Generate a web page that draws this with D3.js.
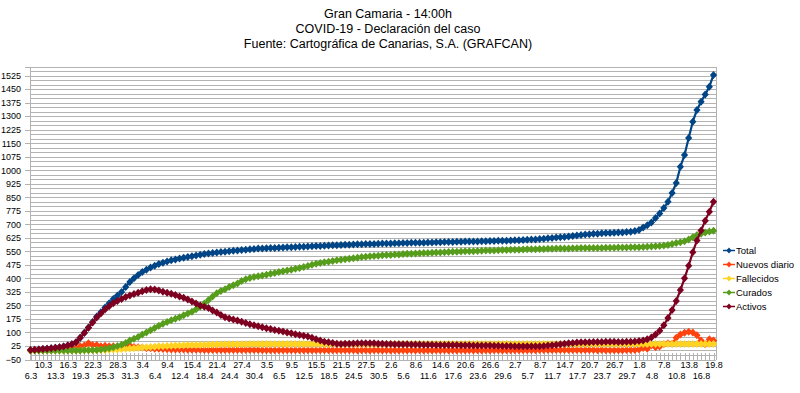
<!DOCTYPE html>
<html><head><meta charset="utf-8">
<script src="https://cdn.jsdelivr.net/npm/d3@7"></script>
<style>
body{margin:0;background:#fff;}
svg{display:block;font-family:"Liberation Sans",Arial,sans-serif;}
</style>
</head><body>
<svg id="c" width="800" height="393"></svg>
<script>
const titleLines = ["Gran Camaria - 14:00h", "COVID-19 - Declaración del caso", "Fuente: Cartográfica de Canarias, S.A. (GRAFCAN)"];
const dates = ["6.3","8.3","9.3",
"10.3","11.3","12.3","13.3","14.3","15.3","16.3","17.3","18.3","19.3","20.3","21.3","22.3","23.3","24.3","25.3","26.3","27.3","28.3","29.3","30.3","31.3",
"1.4","2.4","3.4","4.4","5.4","6.4","7.4","8.4","9.4","10.4","11.4","12.4","13.4","14.4","15.4","16.4","17.4","18.4","19.4","20.4","21.4","22.4","23.4","24.4","25.4","26.4","27.4","28.4","29.4","30.4",
"1.5","2.5","3.5","4.5","5.5","6.5","7.5","8.5","9.5","10.5","11.5","12.5","13.5","14.5","15.5","16.5","17.5","18.5","19.5","20.5","21.5","22.5","23.5","24.5","25.5","26.5","27.5","28.5","29.5","30.5","31.5",
"1.6","2.6","3.6","4.6","5.6","6.6","7.6","8.6","9.6","10.6","11.6","12.6","13.6","14.6","15.6","16.6","17.6","18.6","19.6","20.6","21.6","22.6","23.6","24.6","25.6","26.6","27.6","28.6","29.6","30.6",
"1.7","2.7","3.7","4.7","5.7","6.7","7.7","8.7","9.7","10.7","11.7","12.7","13.7","14.7","15.7","16.7","17.7","18.7","19.7","20.7","21.7","22.7","23.7","24.7","25.7","26.7","27.7","28.7","29.7","30.7","31.7",
"1.8","2.8","3.8","4.8","5.8","6.8","7.8","8.8","9.8","10.8","11.8","12.8","13.8","14.8","15.8","16.8","17.8","18.8","19.8"];

const total = [
2,4,6,8,10,12,15,18,22,27,
34,46,70,98,128,158,188,212,238,262,
285,305,325,352,380,400,418,435,448,460,
470,479,487,494,500,505,510,515,519,523,
527,531,535,538,541,543,546,548,551,553,
555,557,559,561,563,565,566,567,568,569,
570,571,572,573,574,575,576,577,578,579,
580,581,582,583,584,585,586,587,588,589,
589,590,591,591,592,593,593,594,595,595,
596,596,597,597,598,598,599,599,600,600,
601,602,602,603,603,604,604,605,605,606,
606,607,607,608,608,609,610,611,612,613,
614,615,616,618,620,622,624,626,628,630,
632,635,638,641,643,645,647,648,650,651,
652,653,654,655,657,659,662,668,682,695,
710,735,760,790,825,874,929,1019,1084,1179,
1269,1334,1380,1420,1463,1528];

const nuevos = [
1,2,2,2,2,2,3,3,4,5,
7,12,24,28,40,30,30,24,26,24,
23,20,20,27,28,20,18,17,13,12,
10,9,8,7,6,5,5,5,4,4,
4,4,3,3,3,2,3,2,2,2,
2,2,2,2,2,2,1,1,1,1,
1,1,1,1,1,1,1,1,1,1,
1,1,1,1,1,1,1,1,1,0,
1,1,0,1,1,0,1,0,1,0,
1,0,1,0,1,0,1,0,1,0,
1,0,1,0,1,0,1,0,1,0,
1,0,1,1,0,1,1,1,1,1,
1,1,1,2,2,2,2,2,2,2,
2,3,3,3,2,2,2,1,2,1,
1,1,1,1,2,2,3,6,14,10,
28,18,22,35,40,38,70,88,98,104,
100,85,55,35,62,55];

const fallecidos = [
0,0,0,0,0,0,0,0,0,0,
0,0,0,1,1,1,2,2,3,4,
5,6,8,9,11,12,14,16,18,20,
21,23,24,25,26,27,28,29,30,30,
31,31,32,32,33,33,34,34,34,35,
35,35,35,36,36,36,36,36,36,36,
36,36,36,36,36,36,36,36,36,36,
36,36,36,36,36,36,36,36,36,36,
36,36,36,36,36,36,36,36,36,36,
36,36,36,36,36,36,36,36,36,36,
36,36,36,36,36,36,36,36,36,36,
36,36,36,36,36,36,36,36,36,36,
36,36,36,36,36,36,36,36,36,36,
36,36,36,36,36,36,36,36,36,36,
36,36,36,36,36,36,36,36,36,36,
36,36,36,36,36,36,36,36,36,36,
36,36,36,36,36,36];

const curados = [
0,0,0,0,0,0,0,0,0,0,
0,0,0,1,1,2,3,5,8,12,
18,25,32,42,55,65,75,88,100,112,
125,137,148,158,167,176,185,195,205,215,
228,242,260,280,300,318,330,340,352,362,
372,385,395,402,408,412,416,420,425,430,
435,440,444,448,453,458,463,469,475,481,
485,489,492,496,500,503,506,509,512,515,
518,520,522,524,526,528,529,530,532,533,
535,536,537,538,539,540,541,542,543,544,
545,546,547,548,549,550,551,551,552,553,
554,555,555,556,557,557,558,559,559,560,
561,561,562,563,563,564,564,565,565,566,
566,567,567,568,568,568,569,569,569,570,
570,570,571,571,571,572,572,573,574,575,
577,578,580,582,585,590,596,600,606,615,
628,640,648,655,660,664];

const activos = [
2,4,6,8,10,12,15,18,22,27,
34,46,70,97,126,155,183,205,227,246,
262,274,285,296,305,313,320,328,335,340,
338,332,326,320,314,308,300,292,283,272,
260,250,242,235,222,210,197,185,178,172,
166,160,153,146,140,134,129,124,119,114,
110,105,100,95,90,86,82,77,70,62,
55,49,45,42,38,36,37,38,39,40,
40,40,40,40,38,37,36,36,35,35,
34,34,33,33,33,32,32,32,31,31,
31,30,30,30,29,29,29,28,28,28,
27,27,26,26,25,25,25,24,24,24,
23,23,23,24,25,27,29,32,34,37,
40,42,44,45,46,46,47,47,47,48,
48,48,47,47,48,49,50,52,55,62,
72,88,110,140,180,225,275,335,400,470,
545,610,665,720,770,825];

const seriesNames = ["Total","Nuevos diario","Fallecidos","Curados","Activos"];
const seriesColors = ["#004586","#ff420e","#ffd320","#579d1c","#7e0021"];
const seriesValues = [total, nuevos, fallecidos, curados, activos];
const yTickLabels = [-50,25,100,175,250,325,400,475,550,625,700,775,850,925,1000,1075,1150,1225,1300,1375,1450,1525];
const yGridValues = d3.range(-50, 1576, 25);

const svg = d3.select("#c");
const P = {left:30, right:716, top:66.5, bottom:359.5};
const x = d3.scalePoint().domain(d3.range(dates.length)).range([30.5, 713.5]);
const y = d3.scaleLinear().domain([-50, 1575]).range([P.bottom, P.top]);
const GRID = "#b3b3b3";

// title
svg.append("g").selectAll("text").data(titleLines).join("text")
  .attr("x", 388).attr("y", (d,i)=>17.5 + i*15)
  .attr("text-anchor","middle").attr("font-size",12.5).attr("fill","#000")
  .text(d=>d);

// gridlines
const gGrid = svg.append("g").attr("transform",`translate(${P.left},0)`)
  .call(d3.axisLeft(y).tickValues(yGridValues).tickSize(-(P.right-P.left)).tickFormat(""));
gGrid.select(".domain").remove();
gGrid.selectAll("line").attr("stroke",GRID).attr("shape-rendering","crispEdges");

// right border
svg.append("line").attr("x1",P.right).attr("x2",P.right).attr("y1",y(1575)).attr("y2",P.bottom)
  .attr("stroke",GRID).attr("shape-rendering","crispEdges");

// y axis
const gY = svg.append("g").attr("transform",`translate(${P.left},0)`)
  .call(d3.axisLeft(y).tickValues(yTickLabels).tickSize(5).tickPadding(4).tickFormat(d3.format("d")));
gY.select(".domain").attr("stroke",GRID).attr("shape-rendering","crispEdges");
gY.selectAll(".tick line").attr("stroke",GRID).attr("shape-rendering","crispEdges");
gY.selectAll("text").attr("font-size",9).attr("fill","#000").attr("font-family","Liberation Sans, Arial, sans-serif");

// x axis inner ticks
const gXt = svg.append("g").attr("transform",`translate(0,${P.bottom})`)
  .call(d3.axisBottom(x).tickSize(-7).tickFormat(""));
gXt.select(".domain").attr("stroke",GRID).attr("shape-rendering","crispEdges");
gXt.selectAll(".tick line").attr("stroke",GRID).attr("shape-rendering","crispEdges");

// x axis labels
const labelIdx = d3.range(0, dates.length, 3);
const gX = svg.append("g").attr("transform",`translate(0,${P.bottom})`)
  .call(d3.axisBottom(x).tickValues(labelIdx).tickSize(0).tickFormat(i=>dates[i]));
gX.select(".domain").remove();
gX.selectAll("text").attr("font-size",9).attr("fill","#000")
  .attr("font-family","Liberation Sans, Arial, sans-serif")
  .attr("dy",0)
  .attr("y", (d)=> (labelIdx.indexOf(d)%2===1) ? 8.5 : 19);

// series
const diamond = "M0,-4L3.6,0L0,4L-3.6,0Z";
const line = d3.line().x((d,i)=>x(i)).y(d=>y(d));
seriesValues.forEach((vals, s) => {
  const g = svg.append("g");
  g.append("path").datum(vals).attr("d", line)
    .attr("fill","none").attr("stroke",seriesColors[s]).attr("stroke-width",2.2).attr("stroke-linejoin","round");
  g.selectAll("path.m").data(vals).join("path").attr("class","m")
    .attr("d", diamond)
    .attr("transform",(d,i)=>`translate(${x(i)},${y(d)})`)
    .attr("fill",seriesColors[s]);
});

// legend
const lg = svg.append("g");
seriesNames.forEach((n, s) => {
  const cy = 250.5 + s*14;
  lg.append("line").attr("x1",723).attr("x2",735).attr("y1",cy).attr("y2",cy)
    .attr("stroke",seriesColors[s]).attr("stroke-width",1.5);
  lg.append("path").attr("d",diamond).attr("transform",`translate(729,${cy}) scale(0.75)`).attr("fill",seriesColors[s]);
  lg.append("text").attr("x",736).attr("y",cy+3.3).attr("font-size",9.5).attr("fill","#000").text(n);
});
</script>
</body></html>
